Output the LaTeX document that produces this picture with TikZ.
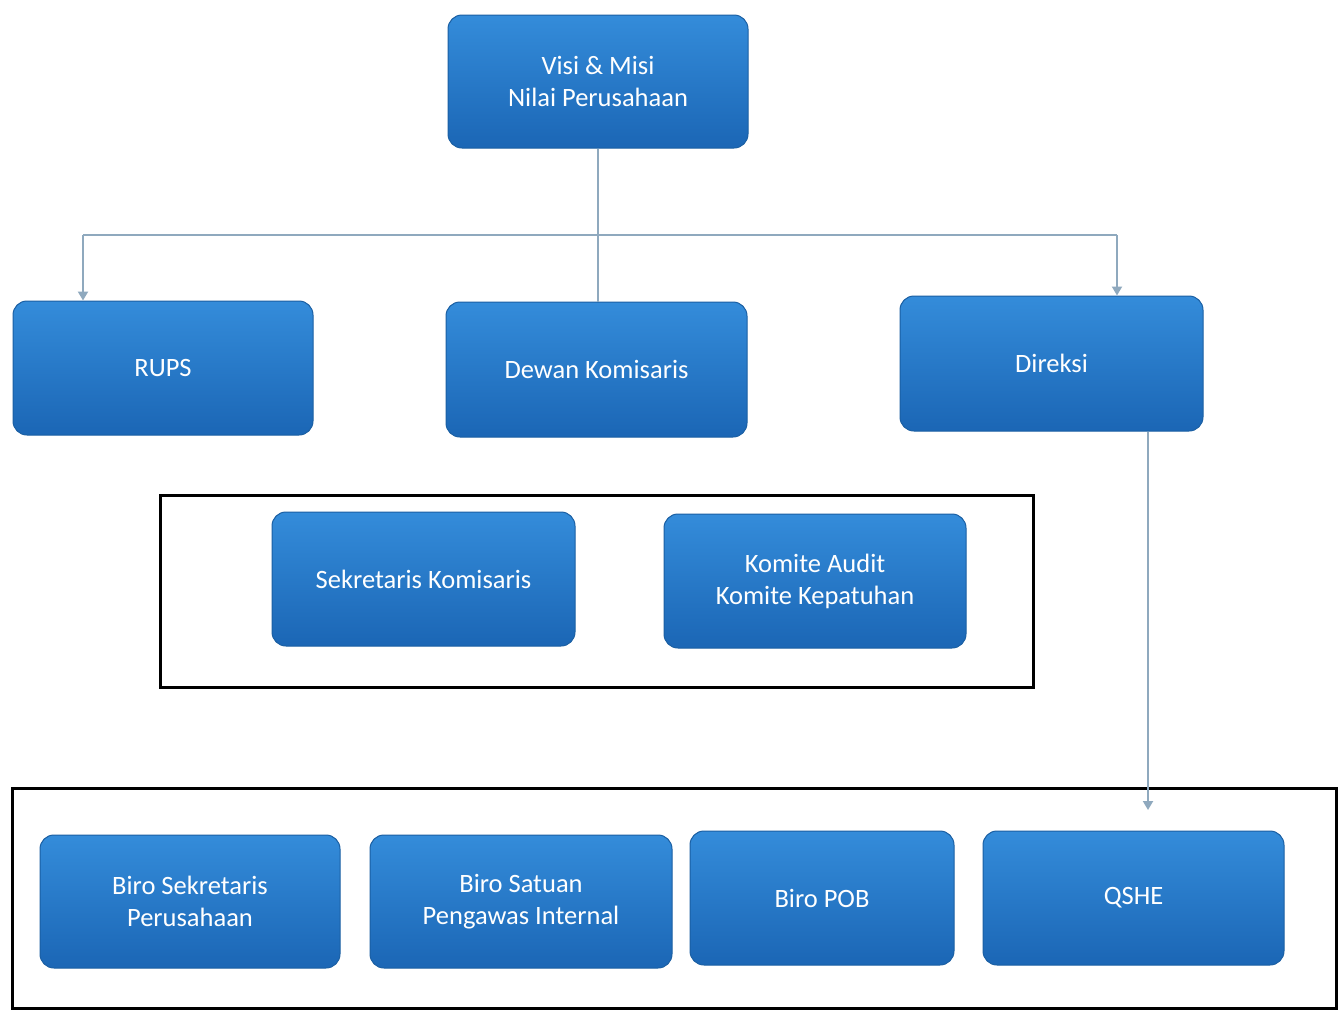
\documentclass[tikz,border=0pt]{standalone}
\usepackage{fontspec}
\setmainfont{Carlito}
\usetikzlibrary{arrows.meta}
\definecolor{boxtop}{HTML}{348CDA}
\definecolor{boxbot}{HTML}{1B66B5}
\definecolor{boxedge}{HTML}{1A5FA3}
\definecolor{linec}{HTML}{8FA9BE}
\tikzset{
  orgbox/.style={rectangle, rounded corners=14pt, draw=boxedge, line width=1pt,
    top color=boxtop, bottom color=boxbot, text=white, align=center,
    font=\fontsize{26.5}{32}\selectfont, inner sep=0pt},
  frame/.style={draw=black, line width=3pt},
  conn/.style={draw=linec, line width=2pt},
  arr/.style={conn, -{Triangle[length=9pt,width=10pt]}}
}
\begin{document}
\begin{tikzpicture}[x=1pt,y=-1pt]
\useasboundingbox (0,0) rectangle (1343,1010);
\fill[white] (0,0) rectangle (1343,1010);
% boxes: centre (x,y), size
\newcommand{\obox}[6]{\node[orgbox, minimum width=#4, minimum height=#5] (#1) at (#2,#3) {#6};}
\obox{visi}{598}{81.5}{300}{133}{Visi \& Misi\\Nilai Perusahaan}
\obox{rups}{163}{368}{300}{134}{RUPS}
\obox{dewan}{596.5}{369.5}{301}{135}{Dewan Komisaris}
\obox{direksi}{1051.5}{363.5}{303}{135}{Direksi}
\draw[frame] (160,495) rectangle (1033,687);
\obox{sekkom}{423.5}{579}{303}{134}{Sekretaris Komisaris}
\obox{komite}{815}{581}{302}{134}{Komite Audit\\Komite Kepatuhan}
\draw[frame] (12,788) rectangle (1336,1008);
\coordinate (f2top) at (1148,810);
\obox{birosek}{190}{901.5}{300}{133}{Biro Sekretaris\\Perusahaan}
\obox{birosat}{521}{901.5}{302}{133}{Biro Satuan\\Pengawas Internal}
\obox{biropob}{822}{898}{264}{134}{Biro POB}
\obox{qshe}{1133.5}{898}{301}{134}{QSHE}
% connectors
\coordinate (hl) at (83,235);
\coordinate (hr) at (1117,235);
\draw[conn] (visi.south) -- (visi.south |- dewan.north);
\draw[conn] (hl) -- (hr);
\draw[arr] (hl) -- (rups.north -| hl);
\draw[arr] (hr) -- (direksi.north -| hr);
\draw[arr] (direksi.south -| f2top) -- (f2top);
\end{tikzpicture}
\end{document}
